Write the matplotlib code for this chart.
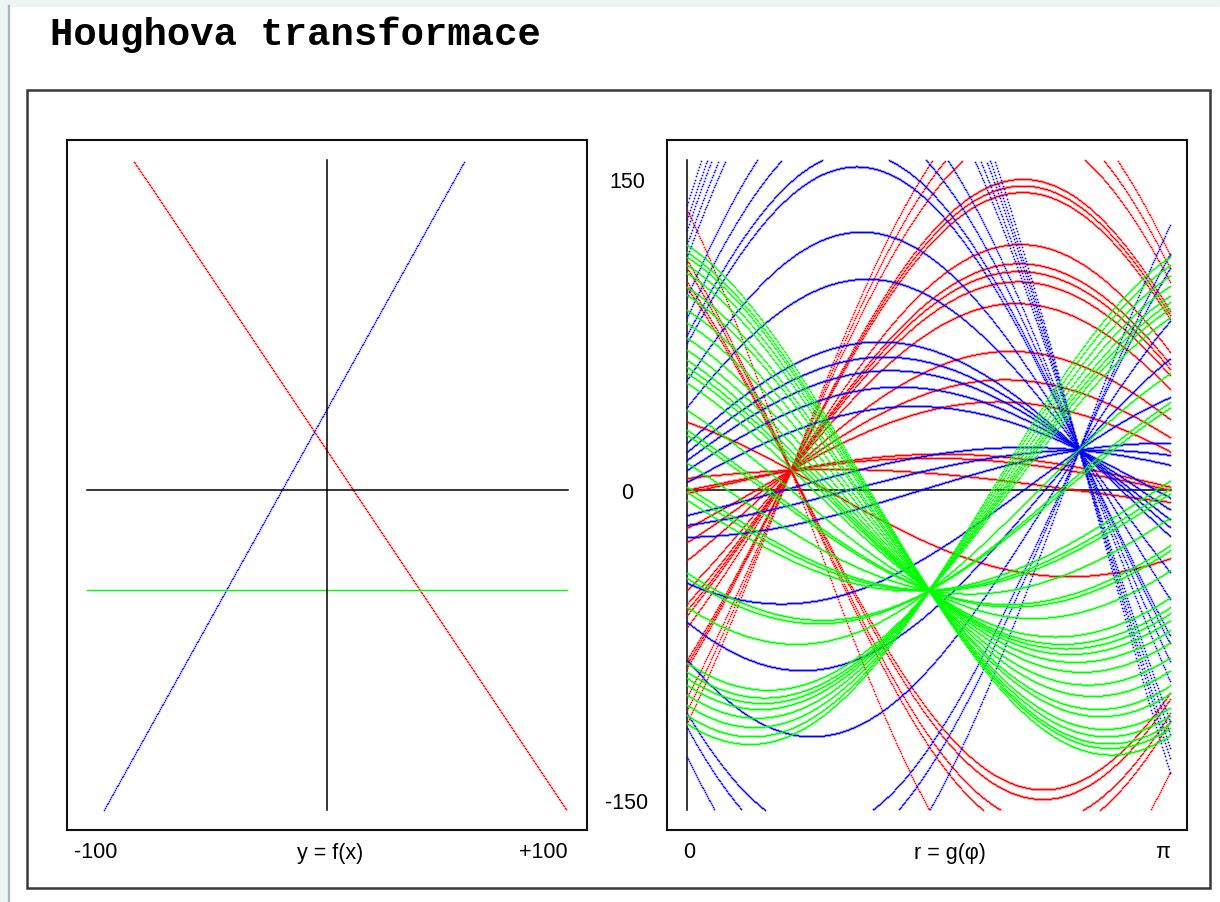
import numpy as np
import matplotlib
matplotlib.use('Agg')
import matplotlib.pyplot as plt
from matplotlib.patches import Rectangle
from matplotlib.transforms import blended_transform_factory

# --- left panel: the three lines y = a*x + b (x in -100..100, y in r units)
line_colors = ['#ff0000', '#0000ff', '#00ff00']
line_slope = [-1.745, 2.094, 0.0]
line_icpt = [18.5, 39.9, -48.4]
line_dotted = [True, True, False]

# --- right panel: normal form of each line (phi, r) and the points taken on it
hough_phi = [0.673, 2.545, np.pi / 2]
hough_r = [9.7, 19.5, -48.4]
red_x = [135.5, 111.3, 107.4, 100.6, 97.7, 32.9, 5.8, 0.0, -1.5, -18.4,
         -25.2, -33.9, -48.4, -55.0, -58.1, -60.5, -66.3, -82.0, -84.0,
         -86.0, -100.1, -106.4, -112.7]
blue_x = [138.0, 131.0, 126.0, 119.0, 113.0, 93.4, 83.7, 75.0, 71.1, 53.2,
          40.2, 22.7, 18.4, 14.5, 9.7, 3.9, -12.1, -16.9, -22.7, -45.0,
          -63.9, -82.2, -108.0, -115.0, -129.0]
green_x = [118.5, 115.1, 112.7, 108.9, 105.0, 98.2, 94.3, 87.1, 80.8, 73.5,
           67.7, 62.9, 59.5, 56.6, 51.8, 38.7, 29.0, 26.6, 13.1, 1.5, -1.0,
           -4.8, -40.1, -42.6, -56.6, -83.7, -88.0, -91.0, -94.3, -99.0,
           -104.0, -109.0, -113.0]
point_x = [red_x, blue_x, green_x]

title = 'Houghova transformace'
left_labels = ['-100', 'y = f(x)', '+100']
right_labels = ['0', 'r = g(\u03c6)', '\u03c0']
r_ticks = [150, 0, -150]

W, H = 1220, 902
R_TOP, R_BOT = 159.6, -154.8
fig = plt.figure(figsize=(W / 100, H / 100), dpi=100)


def rect(x0, y0, x1, y1):
    return [x0 / W, 1 - y1 / H, (x1 - x0) / W, (y1 - y0) / H]


# page background, frame and title (pixel coordinates)
bg = fig.add_axes([0, 0, 1, 1], zorder=-5)
bg.set_xlim(0, W)
bg.set_ylim(H, 0)
bg.axis('off')
bg.add_patch(Rectangle((0, 0), W, 7, color='#eef3f4', lw=0))
bg.add_patch(Rectangle((0, 0), 8, H, color='#eef3f4', lw=0))
bg.plot([9, 9], [6, H], color='#a9b3bc', lw=1.6)
bg.add_patch(Rectangle((27, 90), 1183, 798, fill=False, ec='#3a3a3a', lw=1.8))
bg.text(50, 45, title, family='Liberation Mono', weight='bold', size=28,
        va='baseline', ha='left')

lab = dict(family='Liberation Sans', size=15.5, va='center', ha='center')
for x, t in zip([96, 330, 543], left_labels):
    bg.text(x, 853, t, **lab)
for x, t in zip([689, 950, 1163], right_labels):
    bg.text(x, 853, t, **lab)

# left panel
ax1 = fig.add_axes(rect(67, 140, 587, 830))
ax1.set_xlim(-108.3, 107.9)
ax1.set_ylim(-164.5, 169.3)
xs = np.arange(-100, 100, 1 / 2.405)
for c, a, b, dotted in zip(line_colors, line_slope, line_icpt, line_dotted):
    ys = a * xs + b
    keep = (ys >= R_BOT) & (ys <= R_TOP)
    if dotted:
        ax1.plot(xs[keep], ys[keep], ls='none', marker='s', ms=1.1, mew=0, color=c)
    else:
        ax1.plot(xs[keep], ys[keep], color=c, lw=1.0)
ax1.plot([-100, 100], [0, 0], color='black', lw=1.1, zorder=4)
ax1.plot([0, 0], [R_BOT, R_TOP], color='black', lw=1.1, zorder=4)

# right panel
ax2 = fig.add_axes(rect(667, 140, 1187, 830))
ax2.set_xlim(-0.132, 3.245)
ax2.set_ylim(-164.5, 169.3)
phi = np.arange(0, np.pi, 1 / 154)
ax2.plot([0, 0], [R_BOT, R_TOP], color='black', lw=1.1, zorder=1)
ax2.plot([0, np.pi], [0, 0], color='black', lw=1.1, zorder=1)
for k in [0, 2, 1]:
    p0, r0 = hough_phi[k], hough_r[k]
    for x in point_x[k]:
        y = (r0 - x * np.cos(p0)) / np.sin(p0)
        r = x * np.cos(phi) + y * np.sin(phi)
        keep = (r >= R_BOT) & (r <= R_TOP)
        ax2.plot(phi[keep], r[keep], ls='none', marker='s', ms=1.15, mew=0,
                 color=line_colors[k], zorder=2 + k)

tr = blended_transform_factory(ax2.transAxes, ax2.transData)
for v in r_ticks:
    ax2.text(-0.077, v - 1.5, str(v), transform=tr, **lab)

for ax in (ax1, ax2):
    ax.set_xticks([])
    ax.set_yticks([])
    for s in ax.spines.values():
        s.set_linewidth(1.5)
        s.set_color('#111111')

fig.savefig('out.png', dpi=100)
